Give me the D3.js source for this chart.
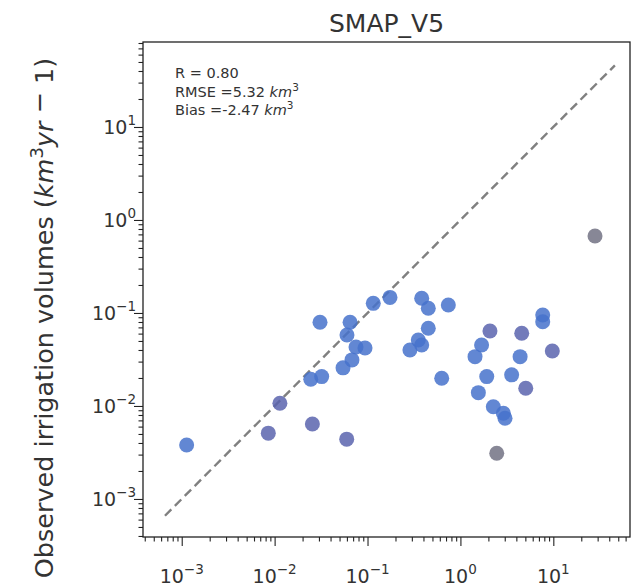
<!DOCTYPE html>
<html>
<head>
<meta charset="utf-8">
<script src="https://cdn.jsdelivr.net/npm/d3@7"></script>
<style>
  html, body { margin: 0; padding: 0; background: #fff; }
  svg { display: block; font-family: "DejaVu Sans", sans-serif; }
</style>
</head>
<body>
<svg id="chart" width="633" height="587"></svg>
<script>
// Satellite-based irrigation estimate (x) against observed irrigation volume (y), km^3
const satVolume = [
  0.00113, 0.00855, 0.0114, 0.0255, 0.0597, 0.0308, 0.0245, 0.0321,
  0.0649, 0.0601, 0.0752, 0.094, 0.068, 0.0545, 0.1153, 0.1745,
  0.383, 0.451, 0.741, 0.451, 0.352, 0.286, 0.383, 0.629,
  2.08, 1.69, 1.436, 4.57, 7.69, 7.69, 4.39, 9.75,
  1.92, 3.56, 1.56, 5.05, 2.26, 2.9, 3.02, 2.46, 28.1
];
const obsVolume = [
  0.0038, 0.0051, 0.0107, 0.0064, 0.0044, 0.0794, 0.0194, 0.0207,
  0.0794, 0.058, 0.043, 0.042, 0.0313, 0.0257, 0.127, 0.147,
  0.144, 0.1125, 0.122, 0.0684, 0.0513, 0.040, 0.0453, 0.0199,
  0.064, 0.0453, 0.0339, 0.0605, 0.095, 0.0805, 0.0339, 0.039,
  0.0207, 0.0216, 0.0139, 0.0155, 0.0098, 0.00836, 0.00738, 0.0031, 0.673
];
// Station class used for marker shading
const stationClass = [
  0, 1, 1, 1, 1, 0, 0, 0,
  0, 0, 0, 0, 0, 0, 0, 0,
  0, 0, 0, 0, 0, 0, 0, 0,
  1, 0, 0, 1, 0, 0, 0, 1,
  0, 0, 0, 1, 0, 0, 0, 2, 2
];
const classColors = ["#4672cb", "#5a64ae", "#727284"];

// Extent of the 1:1 reference line
const oneToOne = [0.00066, 46];

const titleText = "SMAP_V5";
const statLines = [
  { label: "R = 0.80", unit: false },
  { label: "RMSE =5.32 ", unit: true },
  { label: "Bias =-2.47 ", unit: true }
];
const majorExponents = [-3, -2, -1, 0, 1];

const svg = d3.select("#chart");
const plotL = 143, plotR = 630, plotT = 42, plotB = 537;

const x = d3.scaleLog().domain([3.83e-4, 66.9]).range([plotL, plotR]);
const y = d3.scaleLog().domain([3.90e-4, 82.0]).range([plotB, plotT]);

// minor tick values 2..9 × 10^k spanning the domain
function minorTicks(scale) {
  const [a, b] = scale.domain();
  const out = [];
  for (let k = -5; k <= 3; k++) {
    for (let m = 2; m <= 9; m++) {
      const v = m * Math.pow(10, k);
      if (v >= a && v <= b) out.push(v);
    }
  }
  return out;
}
const majors = majorExponents.map(e => Math.pow(10, e));

// minor ticks
svg.append("g").attr("transform", `translate(0,${plotB})`)
  .call(d3.axisBottom(x).tickValues(minorTicks(x)).tickFormat("").tickSize(4.5).tickSizeOuter(0))
  .call(g => g.select(".domain").remove());
svg.append("g").attr("transform", `translate(${plotL},0)`)
  .call(d3.axisLeft(y).tickValues(minorTicks(y)).tickFormat("").tickSize(4.5).tickSizeOuter(0))
  .call(g => g.select(".domain").remove());
// major ticks
svg.append("g").attr("transform", `translate(0,${plotB})`)
  .call(d3.axisBottom(x).tickValues(majors).tickFormat("").tickSize(9).tickSizeOuter(0))
  .call(g => g.select(".domain").remove());
svg.append("g").attr("transform", `translate(${plotL},0)`)
  .call(d3.axisLeft(y).tickValues(majors).tickFormat("").tickSize(9).tickSizeOuter(0))
  .call(g => g.select(".domain").remove());
svg.selectAll(".tick line").attr("stroke", "#222").attr("stroke-width", 1.1);

// tick labels as 10^k
function powLabel(sel, e) {
  sel.append("tspan").text("10");
  sel.append("tspan").attr("dy", -9).attr("font-size", 13.5)
    .text(e < 0 ? "\u2212" + Math.abs(e) : String(e));
}
majorExponents.forEach(e => {
  const t = svg.append("text").attr("x", x(Math.pow(10, e))).attr("y", 583)
    .attr("text-anchor", "middle").attr("font-size", 19).attr("fill", "#333");
  powLabel(t, e);
  const u = svg.append("text").attr("x", 136).attr("y", y(Math.pow(10, e)) + 7)
    .attr("text-anchor", "end").attr("font-size", 19).attr("fill", "#333");
  powLabel(u, e);
});

// 1:1 dashed line
svg.append("line")
  .attr("x1", x(oneToOne[0])).attr("y1", y(oneToOne[0]))
  .attr("x2", x(oneToOne[1])).attr("y2", y(oneToOne[1]))
  .attr("stroke", "#808080").attr("stroke-width", 2.4)
  .attr("stroke-dasharray", "9,5");

// scatter points
const pts = satVolume.map((v, i) => ({ sx: v, oy: obsVolume[i], c: stationClass[i] }));
svg.append("g").selectAll("circle").data(pts).join("circle")
  .attr("cx", d => x(d.sx)).attr("cy", d => y(d.oy)).attr("r", 7.5)
  .attr("fill", d => classColors[d.c]).attr("fill-opacity", 0.85);

// frame
svg.append("rect").attr("x", plotL).attr("y", plotT)
  .attr("width", plotR - plotL).attr("height", plotB - plotT)
  .attr("fill", "none").attr("stroke", "#222").attr("stroke-width", 1.3);

// title
svg.append("text").attr("x", (plotL + plotR) / 2).attr("y", 32)
  .attr("text-anchor", "middle").attr("font-size", 25).attr("fill", "#333")
  .text(titleText);

// statistics box
statLines.forEach((s, i) => {
  const t = svg.append("text").attr("x", 175).attr("y", 78 + i * 18.5)
    .attr("font-size", 14.5).attr("fill", "#333");
  t.append("tspan").text(s.label);
  if (s.unit) {
    t.append("tspan").attr("font-style", "italic").text("km");
    t.append("tspan").attr("dy", -6).attr("font-size", 10.5).text("3");
  }
});

// y-axis title
const yl = svg.append("text")
  .attr("transform", `translate(53,318) rotate(-90)`)
  .attr("text-anchor", "middle").attr("font-size", 25.5).attr("fill", "#333");
yl.append("tspan").text("Observed irrigation volumes (");
yl.append("tspan").attr("font-style", "italic").text("km");
yl.append("tspan").attr("dy", -10).attr("font-size", 18).text("3");
yl.append("tspan").attr("dy", 10).attr("font-style", "italic").text("yr");
yl.append("tspan").attr("dy", -5).text(" \u2212 ");
yl.append("tspan").attr("dy", 5).text("1)");
</script>
</body>
</html>
